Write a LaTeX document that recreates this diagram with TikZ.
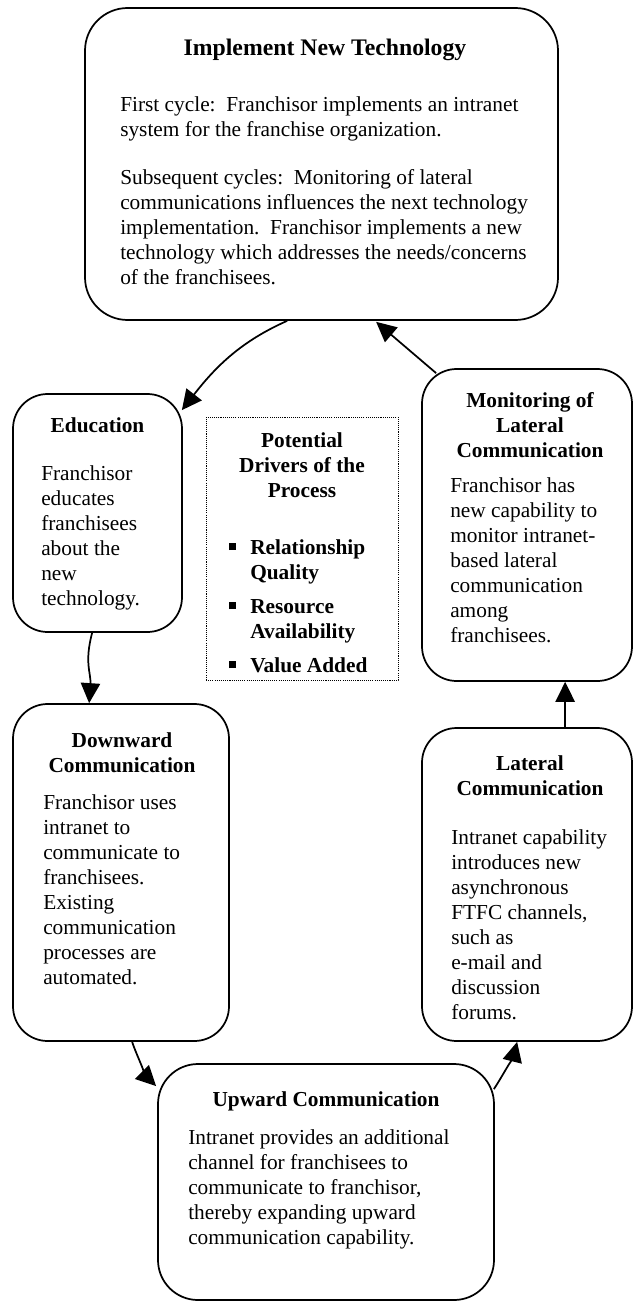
\documentclass[tikz,border=0pt]{standalone}
\usepackage{fontspec}
\setmainfont{Liberation Serif}
\usetikzlibrary{arrows.meta,calc}
\newcommand{\lblock}[1]{\begin{tabular}[t]{@{}l@{}}#1\end{tabular}}
\newcommand{\cblock}[1]{\begin{tabular}[t]{@{}c@{}}#1\end{tabular}}
\newcommand{\sqb}{\makebox[15.75pt][l]{\rule[3pt]{5pt}{5pt}}}
\newcommand{\hng}{\hspace*{15.75pt}}
\begin{document}
\begin{tikzpicture}[x=0.75pt,y=-0.75pt,
  box/.style={draw, line width=1.3pt, rounded corners=26pt, inner sep=0pt},
  txt/.style={inner sep=0pt, anchor=base west, font=\fontsize{16}{18.75}\selectfont},
  ttl/.style={inner sep=0pt, anchor=base, font=\fontsize{16}{18.75}\selectfont\bfseries},
  arr/.style={line width=1.3pt, -{Triangle[length=15pt,width=14.5pt]}}]
\useasboundingbox (0,0) rectangle (633,1302);

% boxes
\node[box, rounded corners=32pt, minimum width=354.75pt, minimum height=234pt] (top) at (321.5,164) {};
\node[box, minimum width=126.75pt, minimum height=178.5pt] (edu) at (97.5,513) {};
\node[draw, line width=0.7pt, dash pattern=on 0.8pt off 0.8pt, minimum width=144pt, minimum height=197.25pt, inner sep=0pt] (drv) at (302,548.5) {};
\node[box, minimum width=157.5pt, minimum height=234pt] (mon) at (527,525) {};
\node[box, minimum width=162pt, minimum height=252.75pt] (down) at (121,872.5) {};
\node[box, minimum width=157.5pt, minimum height=234.75pt] (lat) at (527,884.5) {};
\node[box, rounded corners=30pt, minimum width=252pt, minimum height=177pt] (up) at (326,1182) {};

% texts
\node[ttl, font=\fontsize{17.8}{21}\selectfont\bfseries] (topT) at (325,56) {\cblock{Implement New Technology}};
\node[txt] (topB) at (120,112) {\lblock{First cycle:\ \ Franchisor implements an intranet\\system for the franchise organization.\\[17.25pt]Subsequent cycles:\ \ Monitoring of lateral\\communications influences the next technology\\implementation.\ \ Franchisor implements a new\\technology which addresses the needs/concerns\\of the franchisees.}};

\node[ttl] (eduT) at (97.5,432) {\cblock{Education}};
\node[txt] (eduB) at (41,480) {\lblock{Franchisor\\educates\\franchisees\\about the\\new\\technology.}};

\node[ttl] (drvT) at (302,447) {\cblock{Potential\\Drivers of the\\Process}};
\node[txt, font=\fontsize{16}{18.75}\selectfont\bfseries] (drvB) at (229,554) {\lblock{\sqb Relationship\\\hng Quality\\[6.75pt]\sqb Resource\\\hng Availability\\[6.75pt]\sqb Value Added}};

\node[ttl] (monT) at (530,407) {\cblock{Monitoring of\\Lateral\\Communication}};
\node[txt] (monB) at (450,492) {\lblock{Franchisor has\\new capability to\\monitor intranet-\\based lateral\\communication\\among\\franchisees.}};

\node[ttl] (downT) at (122,747) {\cblock{Downward\\Communication}};
\node[txt] (downB) at (43,809) {\lblock{Franchisor uses\\intranet to\\communicate to\\franchisees.\\Existing\\communication\\processes are\\automated.}};

\node[ttl] (latT) at (530,770) {\cblock{Lateral\\Communication}};
\node[txt] (latB) at (451,844) {\lblock{Intranet capability\\introduces new\\asynchronous\\FTFC channels,\\such as\\e-mail and\\discussion\\forums.}};

\node[ttl] (upT) at (326,1106) {\cblock{Upward Communication}};
\node[txt] (upB) at (188,1144) {\lblock{Intranet provides an additional\\channel for franchisees to\\communicate to franchisor,\\thereby expanding upward\\communication capability.}};

% connectors
\draw[arr] ($(top.south west)+(203,0)$) .. controls +(-45,20) and +(35,-45) .. ($(edu.north east)+(-1,17)$);
\draw[arr] ($(mon.north west)+(15,5)$) -- ($(top.south west)+(292,1)$);
\draw[arr] ($(edu.south west)+(80,0)$) .. controls +(-8,30) and +(2,-30) .. ($(down.north west)+(77,0)$);
\draw[arr] ($(down.south west)+(120,0)$) .. controls +(5,15) and +(-8,-8) .. ($(up.north west)+(-1,23)$);
\draw[arr] ($(up.north east)+(-1,26)$) .. controls +(8,-12) and +(-3,12) .. ($(lat.south west)+(96,0)$);
\draw[arr] ($(lat.north west)+(144,0)$) -- ($(mon.south west)+(144,0)$);
\end{tikzpicture}
\end{document}
